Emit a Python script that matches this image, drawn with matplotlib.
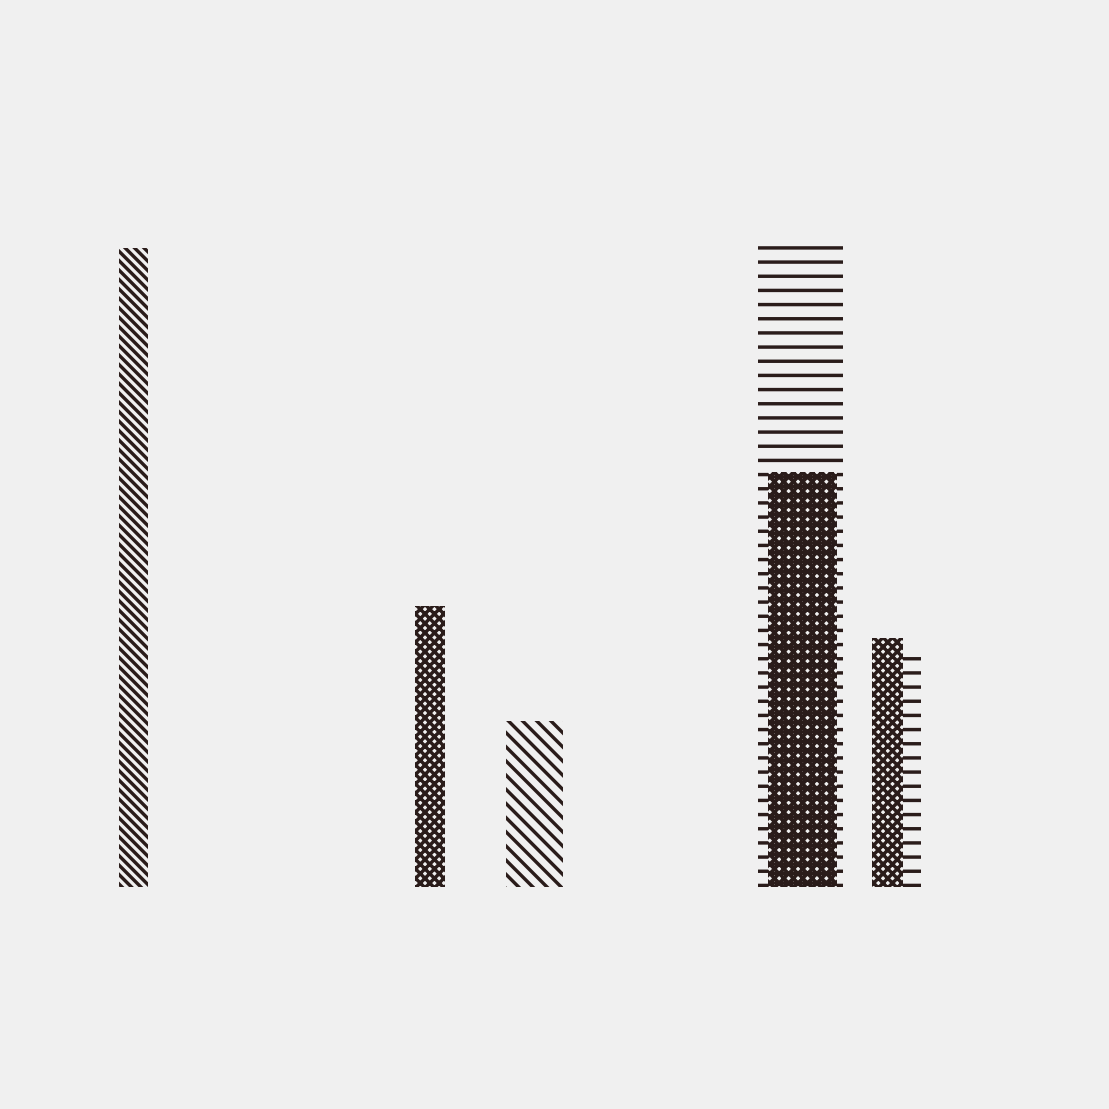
import matplotlib
matplotlib.use("Agg")
import matplotlib.pyplot as plt

# bar data (value, horizontal position, width)
values = [100, 44, 26, 100.3, 65, 39, 36]
positions = [1.33, 4.30, 5.34, 8.005, 8.025, 8.87, 8.965]
widths = [0.29, 0.30, 0.57, 0.85, 0.69, 0.31, 0.49]
hatches = ['\\' * 6, 'x' * 6, '\\' * 4, '--', 'x' * 6 + '---', 'x' * 6, '--']
in_front = [True, True, True, False, True, True, False]

bg = '#f0f0f0'
ink = '#2a1c1a'

DPI = 170
plt.rcParams['hatch.color'] = ink
plt.rcParams['hatch.linewidth'] = 1.45

fig = plt.figure(figsize=(1109 / DPI, 1109 / DPI), dpi=DPI, facecolor=bg)
ax = fig.add_axes([0, 0, 1, 1])
ax.set_facecolor(bg)

# draw back bars first, then the ones in front
order = [i for i in range(len(values)) if not in_front[i]] + \
        [i for i in range(len(values)) if in_front[i]]
for i in order:
    fc = bg if in_front[i] else 'none'
    ax.bar(positions[i], values[i], width=widths[i], color=fc,
           edgecolor=ink, linewidth=0, hatch=hatches[i])

ax.set_xlim(0, 11.09)
ax.set_ylim(-34.7, 138.8)
ax.axis('off')

fig.savefig('out.png', dpi=DPI, facecolor=bg)
